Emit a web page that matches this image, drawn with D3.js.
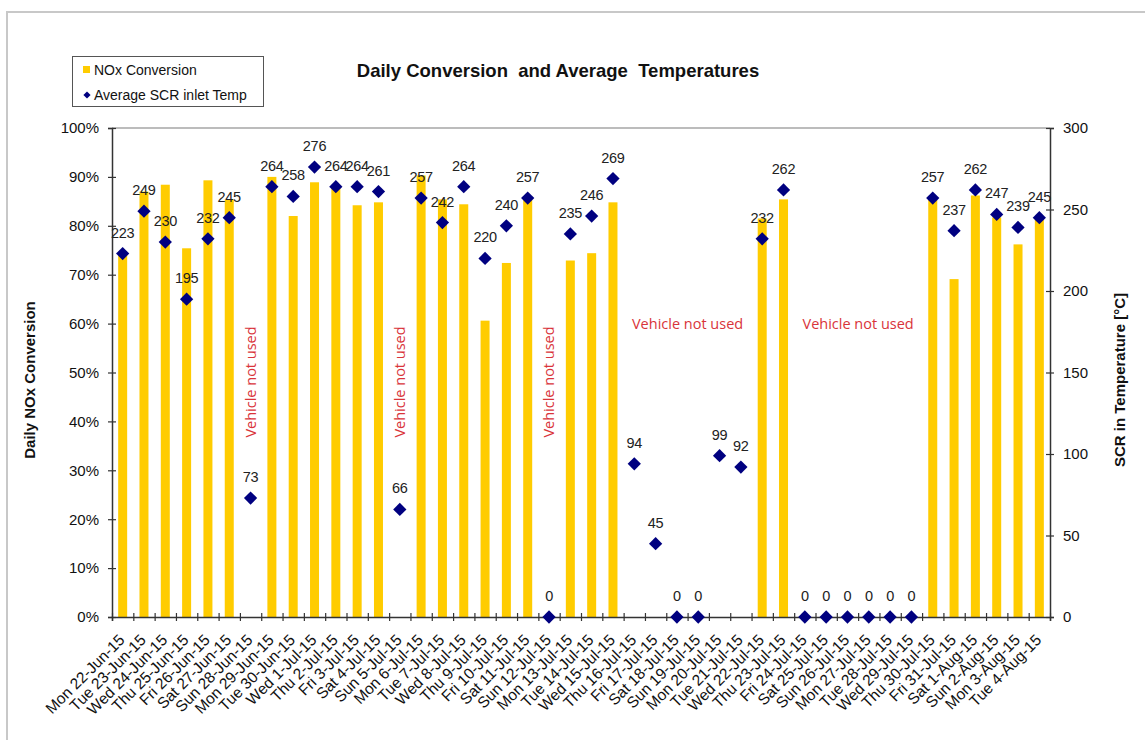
<!DOCTYPE html>
<html>
<head>
<meta charset="utf-8">
<script src="https://cdn.jsdelivr.net/npm/d3@7"></script>
<style>
  html, body { margin: 0; padding: 0; background: #fff; }
  svg { display: block; font-family: "Liberation Sans", Arial, sans-serif; }
</style>
</head>
<body>
<svg id="chart" width="1145" height="740"></svg>
<script>
// ---- data ----
const categories = [
  "Mon 22-Jun-15","Tue 23-Jun-15","Wed 24-Jun-15","Thu 25-Jun-15","Fri 26-Jun-15","Sat 27-Jun-15","Sun 28-Jun-15",
  "Mon 29-Jun-15","Tue 30-Jun-15","Wed 1-Jul-15","Thu 2-Jul-15","Fri 3-Jul-15","Sat 4-Jul-15","Sun 5-Jul-15",
  "Mon 6-Jul-15","Tue 7-Jul-15","Wed 8-Jul-15","Thu 9-Jul-15","Fri 10-Jul-15","Sat 11-Jul-15","Sun 12-Jul-15",
  "Mon 13-Jul-15","Tue 14-Jul-15","Wed 15-Jul-15","Thu 16-Jul-15","Fri 17-Jul-15","Sat 18-Jul-15","Sun 19-Jul-15",
  "Mon 20-Jul-15","Tue 21-Jul-15","Wed 22-Jul-15","Thu 23-Jul-15","Fri 24-Jul-15","Sat 25-Jul-15","Sun 26-Jul-15",
  "Mon 27-Jul-15","Tue 28-Jul-15","Wed 29-Jul-15","Thu 30-Jul-15","Fri 31-Jul-15","Sat 1-Aug-15","Sun 2-Aug-15",
  "Mon 3-Aug-15","Tue 4-Aug-15"
];
// Daily NOx conversion in % (null = no bar)
const noxConversion = [
  74.0, 87.0, 88.4, 75.4, 89.3, 85.4, null,
  90.0, 82.0, 88.9, 88.2, 84.2, 84.8, null,
  90.3, 85.4, 84.4, 60.6, 72.4, 85.9, null,
  72.9, 74.4, 84.8, null, null, null, null,
  null, null, 81.5, 85.4, null, null, null,
  null, null, null, 85.3, 69.1, 86.2, 81.7,
  76.2, 81.5
];
// Average SCR inlet temperature in °C
const scrTemp = [
  223, 249, 230, 195, 232, 245, 73,
  264, 258, 276, 264, 264, 261, 66,
  257, 242, 264, 220, 240, 257, 0,
  235, 246, 269, 94, 45, 0, 0,
  99, 92, 232, 262, 0, 0, 0,
  0, 0, 0, 257, 237, 262, 247,
  239, 245
];
const pctTicks = [0,10,20,30,40,50,60,70,80,90,100];
const tempTicks = [0,50,100,150,200,250,300];
// "Vehicle not used" notes
const notUsedVertical = ["Sun 28-Jun-15","Sun 5-Jul-15","Sun 12-Jul-15"];
const notUsedHorizontal = [["Thu 16-Jul-15","Tue 21-Jul-15"],["Fri 24-Jul-15","Wed 29-Jul-15"]];

(function () {
// ---- layout ----
const svg = d3.select("#chart");
const pL = 112, pR = 1050, pT = 128, pB = 617;
const barColor = "#FFCC00", diaColor = "#000080", noteColor = "#D9343A";

const x = d3.scaleBand().domain(categories).range([pL, pR]).padding(0);
const xIdx = d3.scaleLinear().domain([0, categories.length]).range([pL, pR]);
const yPct = d3.scaleLinear().domain([0, 100]).range([pB, pT]);
const yTemp = d3.scaleLinear().domain([0, 300]).range([pB, pT]);

// outer border
svg.append("rect").attr("x", 7).attr("y", 12).attr("width", 1160).attr("height", 760)
  .attr("fill", "none").attr("stroke", "#c8c8c8").attr("stroke-width", 2);

// plot top border
svg.append("line").attr("x1", pL).attr("x2", pR).attr("y1", pT).attr("y2", pT)
  .attr("stroke", "#a6a6a6").attr("stroke-width", 1.5);

// bars
const barW = 9;
svg.append("g").selectAll("rect")
  .data(categories.map((c, i) => ({c, v: noxConversion[i]})).filter(d => d.v !== null))
  .join("rect")
  .attr("x", d => x(d.c) + x.bandwidth() / 2 - barW / 2)
  .attr("width", barW)
  .attr("y", d => yPct(d.v))
  .attr("height", d => yPct(0) - yPct(d.v))
  .attr("fill", barColor);

// axes
const axisColor = "#333";
const gl = svg.append("g").attr("transform", `translate(${pL},0)`)
  .call(d3.axisLeft(yPct).tickValues(pctTicks).tickFormat(d => d + "%").tickSize(4));
const gr = svg.append("g").attr("transform", `translate(${pR},0)`)
  .call(d3.axisRight(yTemp).tickValues(tempTicks).tickSize(4));
const gb = svg.append("g").attr("transform", `translate(0,${pB})`)
  .call(d3.axisBottom(xIdx).tickValues(d3.range(categories.length + 1)).tickFormat("").tickSize(4));

gl.selectAll(".tick line").attr("x1", -4).attr("x2", 4);
gr.selectAll(".tick line").attr("x1", -4).attr("x2", 4);
gb.selectAll(".tick line").attr("y1", -4).attr("y2", 4);
[gl, gr, gb].forEach(g => {
  g.select(".domain").attr("stroke", axisColor).attr("stroke-width", 1.5);
  g.selectAll(".tick line").attr("stroke", axisColor).attr("stroke-width", 1.2);
  g.selectAll("text").attr("fill", "#111").style("font-size", "15px")
    .style("font-family", "'Liberation Sans', Arial, sans-serif");
});
gl.selectAll("text").attr("x", -13);
gr.selectAll("text").attr("x", 13);

// category labels (rotated)
const gx = svg.append("g").attr("transform", `translate(0,${pB})`)
  .call(d3.axisBottom(x).tickSize(0).tickPadding(0));
gx.select(".domain").remove();
gx.selectAll("text")
  .style("font-size", "15.5px").style("font-family", "'Liberation Sans', Arial, sans-serif")
  .attr("fill", "#111")
  .attr("text-anchor", "end")
  .attr("dy", "0")
  .attr("y", 0)
  .attr("transform", "translate(3,24) rotate(-45)");

// diamonds
const diamond = d3.symbol().type(d3.symbolSquare).size(88);
svg.append("g").selectAll("path")
  .data(categories.map((c, i) => ({c, t: scrTemp[i]})))
  .join("path")
  .attr("d", diamond)
  .attr("transform", d => `translate(${x(d.c) + x.bandwidth() / 2},${yTemp(d.t)}) rotate(45)`)
  .attr("fill", diaColor);

// data labels
svg.append("g").selectAll("text")
  .data(categories.map((c, i) => ({c, t: scrTemp[i]})))
  .join("text")
  .attr("x", d => x(d.c) + x.bandwidth() / 2)
  .attr("y", d => yTemp(d.t) - 16)
  .attr("text-anchor", "middle")
  .style("font-size", "14.5px")
  .style("letter-spacing", "-0.3px")
  .attr("fill", "#222")
  .text(d => d.t);

// "Vehicle not used" notes
notUsedVertical.forEach(c => {
  const cx = x(c) + x.bandwidth() / 2;
  svg.append("text")
    .attr("transform", `translate(${cx + 5},382) rotate(-90)`)
    .attr("text-anchor", "middle")
    .style("font-family", "'Open Sans', sans-serif").style("font-size", "14.5px")
    .attr("fill", noteColor)
    .text("Vehicle not used");
});
notUsedHorizontal.forEach(([a, b]) => {
  const cx = (x(a) + x(b) + x.bandwidth()) / 2;
  svg.append("text")
    .attr("x", cx).attr("y", 329)
    .attr("text-anchor", "middle")
    .style("font-family", "'Open Sans', sans-serif").style("font-size", "14.5px")
    .attr("fill", noteColor)
    .text("Vehicle not used");
});

// title
svg.append("text").attr("x", 558).attr("y", 77).attr("text-anchor", "middle")
  .style("font-size", "18.5px").style("font-weight", "bold").attr("fill", "#111")
  .attr("xml:space", "preserve").style("white-space", "pre")
  .text("Daily Conversion  and Average  Temperatures");

// axis titles
svg.append("text").attr("transform", "translate(35,380) rotate(-90)")
  .attr("text-anchor", "middle").style("font-size", "15px").style("font-weight", "bold").attr("fill", "#111")
  .text("Daily NOx Conversion");
svg.append("text").attr("transform", "translate(1125,380) rotate(-90)")
  .attr("text-anchor", "middle").style("font-size", "15px").style("font-weight", "bold").attr("fill", "#111")
  .text("SCR in Temperature [°C]");

// legend
const lg = svg.append("g");
lg.append("rect").attr("x", 72.5).attr("y", 56.5).attr("width", 191).attr("height", 50)
  .attr("fill", "#fff").attr("stroke", "#555").attr("stroke-width", 1);
lg.append("rect").attr("x", 83).attr("y", 66).attr("width", 7).attr("height", 7).attr("fill", barColor);
lg.append("text").attr("x", 94).attr("y", 75).style("font-size", "14px").attr("fill", "#111").text("NOx Conversion");
lg.append("path").attr("d", d3.symbol().type(d3.symbolSquare).size(26)())
  .attr("transform", "translate(87,95) rotate(45)").attr("fill", diaColor);
lg.append("text").attr("x", 94).attr("y", 100).style("font-size", "14px").attr("fill", "#111").text("Average SCR inlet Temp");
})();
</script>
</body>
</html>
